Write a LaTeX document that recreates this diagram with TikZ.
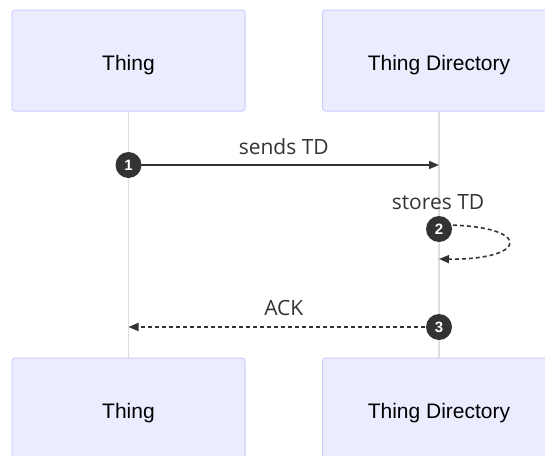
\documentclass[tikz,border=0pt]{standalone}
\usepackage{fontspec}
\setmainfont{Liberation Sans}
\newfontfamily\msgfont{Open Sans}
\usetikzlibrary{arrows.meta}
\definecolor{actorfill}{HTML}{ECECFF}
\definecolor{actorline}{HTML}{CCCCFF}
\definecolor{lifeline}{HTML}{DDDDDD}
\definecolor{msgline}{HTML}{333333}
\tikzset{
    actor/.style={draw=actorline, fill=actorfill, line width=1pt, rounded corners=3pt,
        minimum width=233pt, minimum height=101pt, text height=19pt, text depth=0pt,
        font=\fontsize{21}{25}\selectfont},
    seqnum/.style={circle, fill=msgline, text=white, inner sep=0pt, minimum size=26pt,
        font=\bfseries\fontsize{15}{15}\selectfont},
    msg/.style={draw=msgline, line width=1.6pt, -{Triangle[length=10pt,width=8pt]}},
    reply/.style={msg, dash pattern=on 4pt off 3pt},
    msglabel/.style={font=\msgfont\fontsize{21}{25}\selectfont, text=msgline}
}
\begin{document}
\begin{tikzpicture}[x=1pt,y=-1pt]
        \useasboundingbox (0,0) rectangle (545,455);
    %Actors
        \node[actor] (thingTop) at (128.5,60.5) {Thing};
        \node[actor] (tdTop) at (439,60.5) {Thing Directory};
        \node[actor] (thingBot) at (128.5,408.5) {Thing};
        \node[actor] (tdBot) at (439,408.5) {Thing Directory};
    %Lifelines
        \draw[lifeline, line width=1.8pt] (thingTop) -- (thingBot);
        \draw[lifeline, line width=1.8pt] (tdTop) -- (tdBot);
    %Sends TD
        \coordinate (s1) at (128.5,165);
        \coordinate (e1) at (439,165);
        \draw[msg] (s1) -- (e1) node[midway, above=6.5pt, msglabel]{sends TD};
        \node[seqnum] (n1) at (s1) {1};
    %Stores TD
        \coordinate (s2) at (439,225);
        \coordinate (e2) at (439,259);
        \node[msglabel] (l2) at (438,202) {stores TD};
        \draw[reply] (s2) .. controls (532,224) and (532,260) .. (e2);
        \node[seqnum] (n2) at (439,229) {2};
    %ACK
        \coordinate (s3) at (439,327);
        \coordinate (e3) at (128.5,327);
        \draw[reply] (s3) -- (e3) node[midway, above=7pt, msglabel]{ACK};
        \node[seqnum] (n3) at (s3) {3};
\end{tikzpicture}
\end{document}
